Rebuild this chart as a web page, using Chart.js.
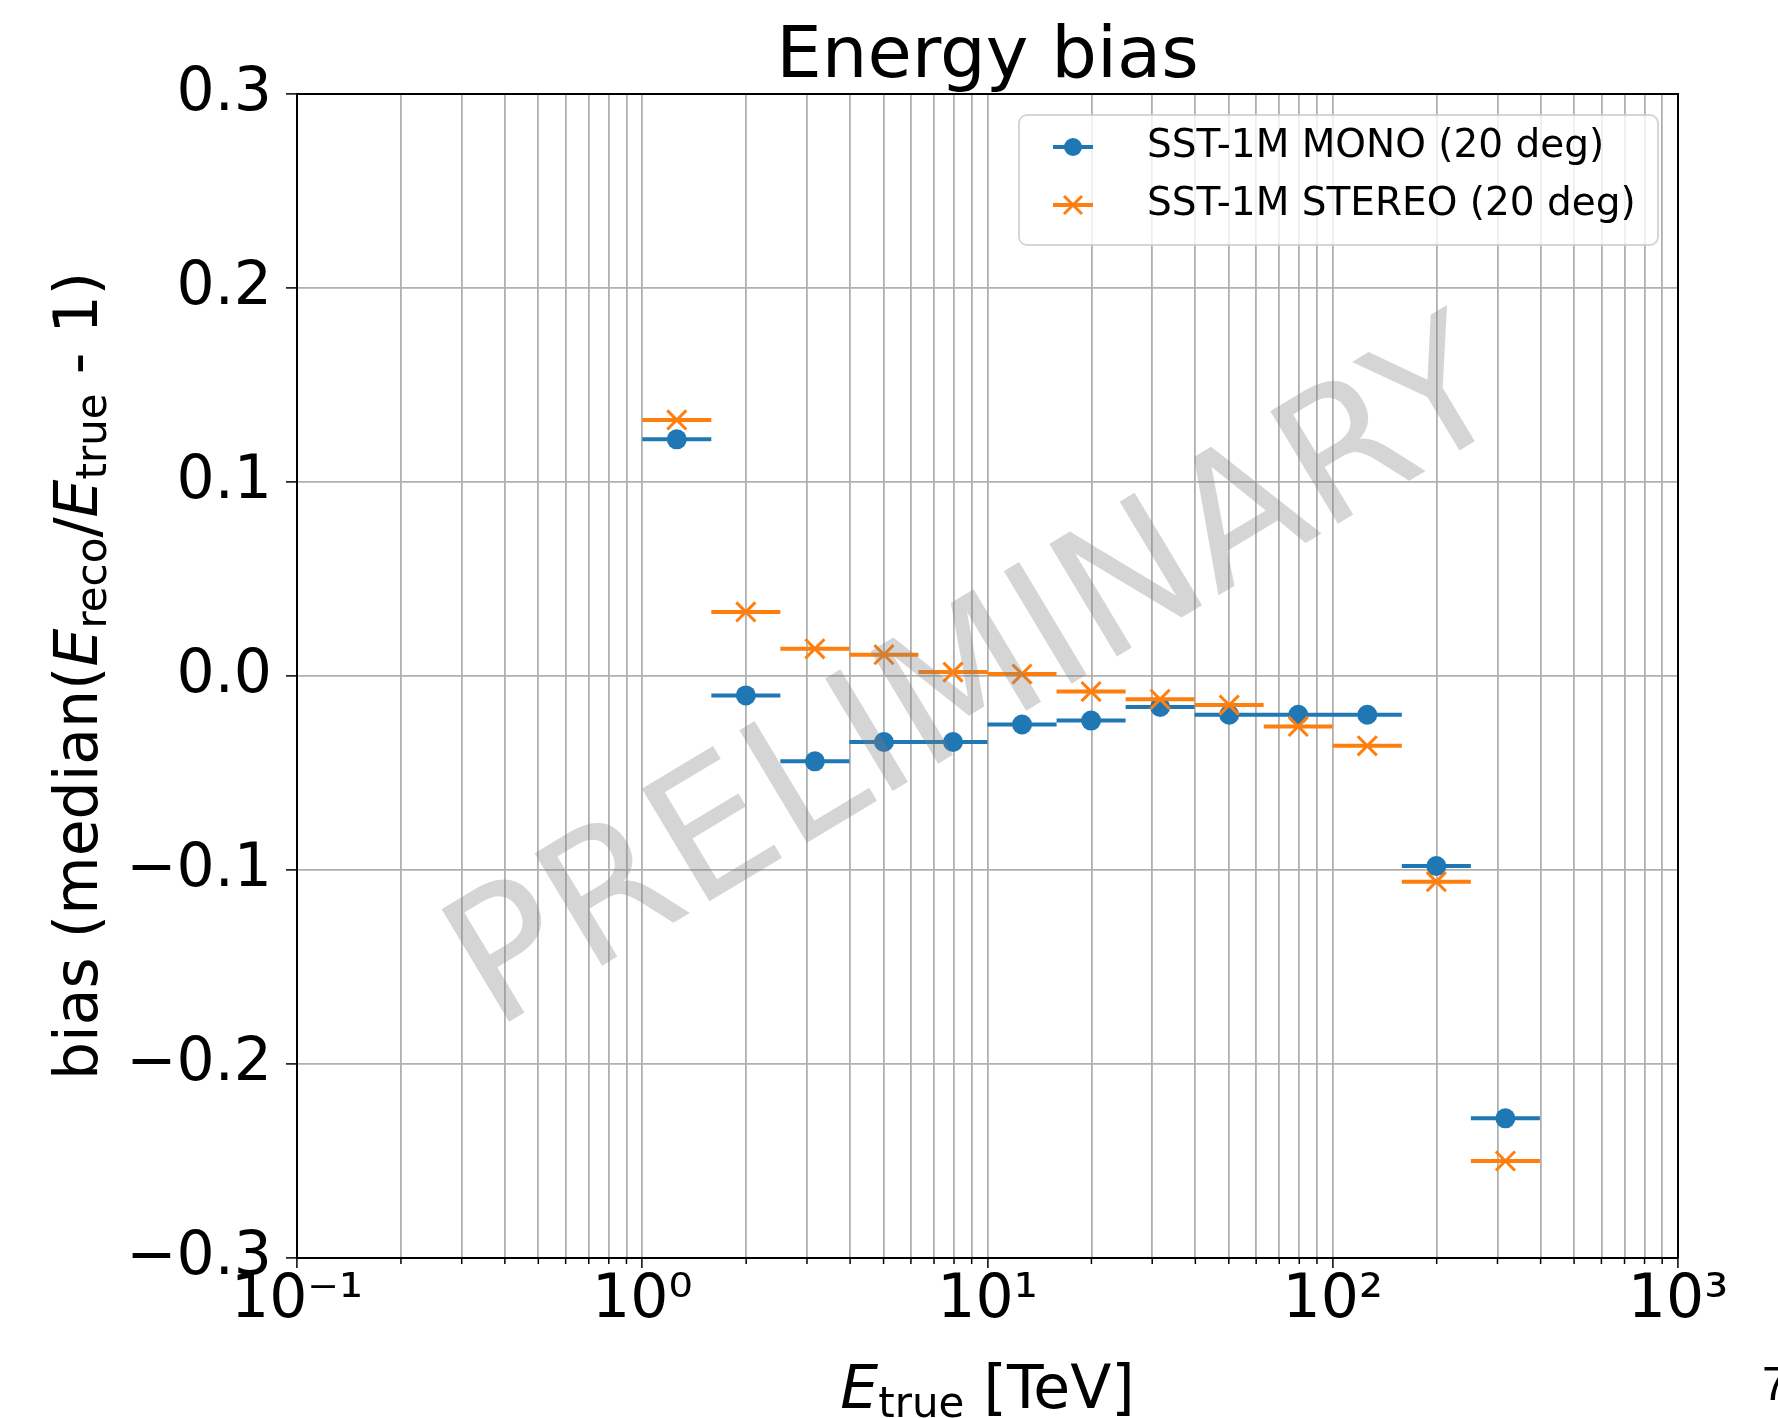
<!DOCTYPE html>
<html>
<head>
<meta charset="utf-8">
<title>Energy bias</title>
<script src="https://cdn.jsdelivr.net/npm/chart.js@4.4.1/dist/chart.umd.min.js"></script>
<style>
  html, body { margin: 0; padding: 0; background: #fff; }
</style>
</head>
<body>
<canvas id="biaschart" width="1778" height="1418"></canvas>
<script>
// energy bins (TeV), 5 per decade
var binEdges = [1.0, 1.585, 2.512, 3.981, 6.310, 10.0, 15.85, 25.12, 39.81, 63.10, 100.0, 158.5, 251.2, 398.1];
var monoBias = [0.122, -0.010, -0.044, -0.034, -0.034, -0.025, -0.023, -0.016, -0.020, -0.020, -0.020, -0.098, -0.228];
var stereoBias = [0.132, 0.033, 0.014, 0.011, 0.002, 0.001, -0.008, -0.012, -0.015, -0.026, -0.036, -0.106, -0.250];
var seriesLabels = ["SST-1M MONO (20 deg)", "SST-1M STEREO (20 deg)"];
var xTickLabels = ["10\u207B\u00B9", "10\u2070", "10\u00B9", "10\u00B2", "10\u00B3"];
var yTickLabels = ["\u22120.3", "\u22120.2", "\u22120.1", "0.0", "0.1", "0.2", "0.3"];

var blue = "#1f77b4";
var orange = "#ff7f0e";
var FONT = '"DejaVu Sans"';

Chart.defaults.font.family = FONT;
Chart.defaults.color = "#000";

var binCenters = binEdges.slice(0, -1).map(function (lo, i) {
  return Math.sqrt(lo * binEdges[i + 1]);
});

function markerPoints(vals) {
  return vals.map(function (v, i) { return { x: binCenters[i], y: v }; });
}

// horizontal bars spanning each bin, broken by null points
function binBars(vals) {
  var pts = [];
  vals.forEach(function (v, i) {
    pts.push({ x: binEdges[i], y: v });
    pts.push({ x: binEdges[i + 1], y: v });
    pts.push({ x: binEdges[i + 1], y: null });
  });
  return pts;
}

function drawRuns(ctx, runs, cx, baseY) {
  var total = 0;
  runs.forEach(function (r) {
    ctx.font = r.font;
    r.w = ctx.measureText(r.text).width;
    total += r.w;
  });
  var x = cx - total / 2;
  ctx.textAlign = "left";
  ctx.textBaseline = "alphabetic";
  runs.forEach(function (r) {
    ctx.font = r.font;
    ctx.fillText(r.text, x, baseY + (r.dy || 0));
    x += r.w;
  });
}

var normal = "60px " + FONT;
var italic = "italic 60px " + FONT;
var sub = "42px " + FONT;

var decorations = {
  id: "decorations",
  afterDatasetsDraw: function (chart) {
    var ctx = chart.ctx;
    var area = chart.chartArea;

    // watermark
    ctx.save();
    ctx.translate(980, 684);
    ctx.rotate(-31 * Math.PI / 180);
    ctx.font = "180px " + FONT;
    ctx.fillStyle = "rgba(128,128,128,0.33)";
    ctx.textAlign = "center";
    ctx.textBaseline = "middle";
    ctx.fillText("PRELIMINARY", 0, 0);
    ctx.restore();

    // top and right spines
    ctx.save();
    ctx.strokeStyle = "#000";
    ctx.lineWidth = 2;
    ctx.beginPath();
    ctx.moveTo(area.left, area.top);
    ctx.lineTo(area.right, area.top);
    ctx.lineTo(area.right, area.bottom);
    ctx.stroke();
    ctx.restore();
  },
  afterDraw: function (chart) {
    var ctx = chart.ctx;
    var area = chart.chartArea;
    var cx = (area.left + area.right) / 2;
    var xs = chart.scales.x;

    ctx.save();
    ctx.fillStyle = "#000";

    // minor ticks on x
    ctx.strokeStyle = "#000";
    ctx.lineWidth = 1.5;
    xs.ticks.forEach(function (t, i) {
      if (i % 9 === 0) return;
      var px = xs.getPixelForValue(t.value);
      ctx.beginPath();
      ctx.moveTo(px, area.bottom);
      ctx.lineTo(px, area.bottom + 6);
      ctx.stroke();
    });

    // title
    ctx.font = "72px " + FONT;
    ctx.textAlign = "center";
    ctx.textBaseline = "alphabetic";
    ctx.fillText("Energy bias", cx, 77);

    // x axis title
    drawRuns(ctx, [
      { text: "E", font: italic },
      { text: "true", font: sub, dy: 9 },
      { text: " [TeV]", font: normal }
    ], cx, 1408);

    // y axis title
    ctx.save();
    ctx.translate(97, (area.top + area.bottom) / 2);
    ctx.rotate(-Math.PI / 2);
    drawRuns(ctx, [
      { text: "bias (median(", font: normal },
      { text: "E", font: italic },
      { text: "reco", font: sub, dy: 9 },
      { text: "/", font: normal },
      { text: "E", font: italic },
      { text: "true", font: sub, dy: 9 },
      { text: " - 1)", font: normal }
    ], 0, 0);
    ctx.restore();

    // legend
    var lx = 1019, ly = 115, lw = 639, lh = 130;
    ctx.beginPath();
    ctx.roundRect(lx, ly, lw, lh, 8);
    ctx.fillStyle = "rgba(255,255,255,0.8)";
    ctx.fill();
    ctx.strokeStyle = "rgba(204,204,204,0.8)";
    ctx.lineWidth = 2;
    ctx.stroke();

    var rows = [147, 205];
    var colors = [blue, orange];
    rows.forEach(function (ry, k) {
      ctx.strokeStyle = colors[k];
      ctx.lineWidth = 4;
      ctx.beginPath();
      ctx.moveTo(1053, ry);
      ctx.lineTo(1093, ry);
      ctx.stroke();
      if (k === 0) {
        ctx.fillStyle = blue;
        ctx.beginPath();
        ctx.arc(1073, ry, 9, 0, Math.PI * 2);
        ctx.fill();
      } else {
        ctx.lineWidth = 3;
        ctx.beginPath();
        ctx.moveTo(1064, ry - 9); ctx.lineTo(1082, ry + 9);
        ctx.moveTo(1082, ry - 9); ctx.lineTo(1064, ry + 9);
        ctx.stroke();
      }
      ctx.fillStyle = "#000";
      ctx.font = "39px " + FONT;
      ctx.textAlign = "left";
      ctx.textBaseline = "middle";
      ctx.fillText(seriesLabels[k], 1147, ry);
    });

    // page number
    ctx.font = '48px "Liberation Sans"';
    ctx.textAlign = "left";
    ctx.textBaseline = "alphabetic";
    ctx.fillStyle = "#000";
    ctx.fillText("7", 1762, 1400);
    ctx.restore();
  }
};

var biasCanvas = document.getElementById("biaschart");

var biasChart = new Chart(biasCanvas, {
  type: "scatter",
  data: {
    datasets: [
      {
        type: "line",
        label: seriesLabels[0] + " bins",
        data: binBars(monoBias),
        borderColor: blue,
        borderWidth: 4,
        pointRadius: 0,
        spanGaps: false,
        fill: false,
        order: 4
      },
      {
        label: seriesLabels[0],
        data: markerPoints(monoBias),
        pointStyle: "circle",
        pointRadius: 10,
        backgroundColor: blue,
        borderColor: blue,
        borderWidth: 0,
        order: 3
      },
      {
        type: "line",
        label: seriesLabels[1] + " bins",
        data: binBars(stereoBias),
        borderColor: orange,
        borderWidth: 4,
        pointRadius: 0,
        spanGaps: false,
        fill: false,
        order: 2
      },
      {
        label: seriesLabels[1],
        data: markerPoints(stereoBias),
        pointStyle: "crossRot",
        pointRadius: 13.5,
        backgroundColor: orange,
        borderColor: orange,
        borderWidth: 3,
        order: 1
      }
    ]
  },
  options: {
    responsive: false,
    animation: false,
    events: [],
    layout: { padding: { top: 94, right: 100, left: 0, bottom: 0 } },
    plugins: {
      legend: { display: false },
      title: { display: false },
      tooltip: { enabled: false }
    },
    scales: {
      x: {
        type: "logarithmic",
        min: 0.1,
        max: 1000,
        afterBuildTicks: function (scale) {
          var t = [];
          for (var e = -1; e < 3; e++) {
            for (var m = 1; m < 10; m++) {
              t.push({ value: m * Math.pow(10, e), major: m === 1 });
            }
          }
          t.push({ value: 1000, major: true });
          scale.ticks = t;
        },
        afterFit: function (scale) { scale.height = 160; },
        ticks: {
          autoSkip: false,
          maxRotation: 0,
          padding: 3,
          font: { size: 60, lineHeight: 1.0 },
          color: "#000",
          callback: function (value, index) {
            return index % 9 === 0 ? xTickLabels[index / 9] : "";
          }
        },
        grid: {
          color: "#b0b0b0",
          lineWidth: 1.8,
          tickLength: 10,
          tickWidth: 1.5,
          tickColor: function (c) {
            return c.index % 9 === 0 ? "#000" : "rgba(0,0,0,0)";
          }
        },
        border: { color: "#000", width: 2 }
      },
      y: {
        min: -0.3,
        max: 0.3,
        afterFit: function (scale) { scale.width = 297; },
        ticks: {
          stepSize: 0.1,
          padding: 14,
          font: { size: 60 },
          color: "#000",
          callback: function (value, index) { return yTickLabels[index]; }
        },
        grid: {
          color: "#b0b0b0",
          lineWidth: 1.8,
          tickLength: 11,
          tickWidth: 1.5,
          tickColor: "#000"
        },
        border: { color: "#000", width: 2 }
      }
    }
  },
  plugins: [decorations]
});
</script>
</body>
</html>
